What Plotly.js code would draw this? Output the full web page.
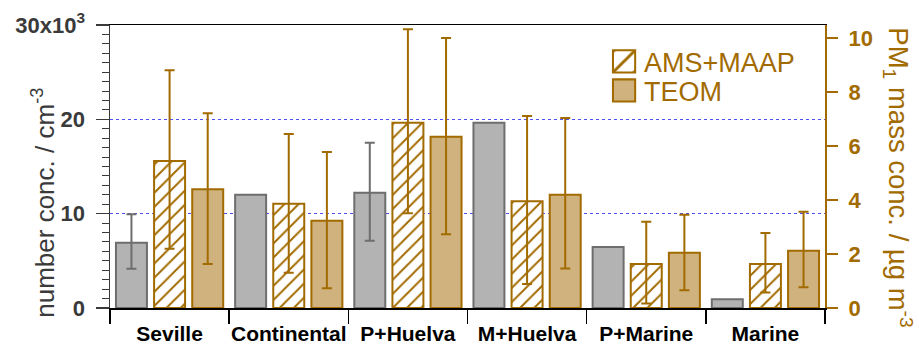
<!DOCTYPE html>
<html>
<head>
<meta charset="utf-8">
<script src="https://cdn.plot.ly/plotly-3.0.1.min.js"></script>
<style>
html,body{margin:0;padding:0;background:#fff;}
#chart{width:919px;height:345px;}
</style>
</head>
<body>
<div id="chart"></div>
<script>
// ---- data ----
var categories = ['Seville', 'Continental', 'P+Huelva', 'M+Huelva', 'P+Marine', 'Marine'];

var numberConc      = [6920, 12010, 12220, 19650, 6470, 920];
var numberErrPlus   = [3010, NaN, 5300, NaN, NaN, NaN];
var numberErrMinus  = [2750, NaN, 5090, NaN, NaN, NaN];

var amsMaap         = [5.45, 3.86, 6.87, 3.96, 1.63, 1.63];
var amsMaapErrPlus  = [3.36, 2.59, 3.46, 3.16, 1.57, 1.15];
var amsMaapErrMinus = [3.25, 2.55, 3.36, 3.07, 1.46, 1.06];

var teom            = [4.40, 3.23, 6.35, 4.20, 2.05, 2.12];
var teomErrPlus     = [2.82, 2.55, 3.66, 2.84, 1.41, 1.45];
var teomErrMinus    = [2.77, 2.50, 3.62, 2.74, 1.39, 1.35];

var leftTickVals  = [0, 10000, 20000, 30000];
var leftTickText  = ['0', '10', '20', '30x10<sup>3</sup>'];

// ---- styles ----
var FONT = 'Liberation Sans, Arial, sans-serif';
var BROWN = '#a26b00';
var TAN = '#cfb27e';
var GREY_FILL = '#b3b3b3';
var GREY_LINE = '#6e6e6e';
var DARK = '#3a3a3a';

var barW = 0.26;

var traces = [
  {
    type: 'bar', name: 'number', x: categories, y: numberConc, yaxis: 'y',
    width: barW, offset: -0.45, showlegend: false,
    marker: {color: GREY_FILL, line: {color: GREY_LINE, width: 2}},
    error_y: {type: 'data', symmetric: false, array: numberErrPlus, arrayminus: numberErrMinus,
              color: GREY_LINE, thickness: 2, width: 5}
  },
  {
    type: 'bar', name: 'AMS+MAAP', x: categories, y: amsMaap, yaxis: 'y2',
    width: barW, offset: -0.13, legend: 'legend',
    marker: {color: 'white', line: {color: BROWN, width: 2},
             pattern: {shape: '/', fgcolor: BROWN, bgcolor: 'white', size: 10, solidity: 0.2, fillmode: 'replace'}},
    error_y: {type: 'data', symmetric: false, array: amsMaapErrPlus, arrayminus: amsMaapErrMinus,
              color: BROWN, thickness: 2, width: 5}
  },
  {
    type: 'bar', name: 'TEOM', x: categories, y: teom, yaxis: 'y2',
    width: barW, offset: 0.19, legend: 'legend2',
    marker: {color: TAN, line: {color: BROWN, width: 2}},
    error_y: {type: 'data', symmetric: false, array: teomErrPlus, arrayminus: teomErrMinus,
              color: BROWN, thickness: 2, width: 5}
  }
];

var legendCommon = {
  xanchor: 'left', yanchor: 'middle', bgcolor: 'rgba(0,0,0,0)', borderwidth: 0,
  font: {family: FONT, size: 27, color: BROWN}
};

var layout = {
  width: 919, height: 345,
  margin: {l: 110, r: 94, t: 25, b: 37, pad: 0},
  paper_bgcolor: 'white', plot_bgcolor: 'white',
  font: {family: FONT, color: DARK},
  barmode: 'overlay',
  hovermode: false,
  xaxis: {
    type: 'category', range: [-0.5, 5.5], fixedrange: true, tickangle: 0,
    tickson: 'boundaries', ticks: 'outside', ticklen: 14, tickwidth: 1.5, tickcolor: '#000',
    showline: true, linecolor: '#000', linewidth: 1.5, mirror: true,
    showgrid: false, zeroline: false, ticklabelstandoff: 6,
    tickfont: {family: FONT, size: 21, color: '#000', weight: 'bold'}
  },
  yaxis: {
    range: [0, 30000], fixedrange: true,
    tickmode: 'array', tickvals: leftTickVals, ticktext: leftTickText,
    ticks: 'outside', ticklen: 13, tickwidth: 1.5, tickcolor: DARK,
    showline: true, linecolor: DARK, linewidth: 1.5,
    showgrid: true, gridcolor: '#4d4dff', gridwidth: 1, griddash: 'dot',
    zeroline: false, ticklabelstandoff: 6,
    minor: {tickmode: 'linear', tick0: 0, dtick: 1000, ticks: 'outside', ticklen: 7,
            tickwidth: 1, tickcolor: DARK, showgrid: false},
    tickfont: {family: FONT, size: 22, color: DARK, weight: 'bold'}
  },
  yaxis2: {
    overlaying: 'y', side: 'right', range: [0, 10.49], fixedrange: true,
    tickmode: 'linear', tick0: 0, dtick: 2,
    ticks: 'outside', ticklen: 11, tickwidth: 2, tickcolor: BROWN,
    showline: true, linecolor: BROWN, linewidth: 2,
    showgrid: false, zeroline: false, ticklabelstandoff: 6,
    tickfont: {family: FONT, size: 22, color: BROWN, weight: 'bold'}
  },
  legend: Object.assign({x: 0.691, y: 0.87}, legendCommon),
  legend2: Object.assign({x: 0.691, y: 0.767}, legendCommon),
  annotations: [
    {
      xref: 'paper', yref: 'paper', x: -0.0923, y: 0.372, xanchor: 'center', yanchor: 'middle',
      text: 'number conc. / cm<sup>-3</sup>', textangle: -90, showarrow: false,
      font: {family: FONT, size: 26, color: DARK}
    },
    {
      xref: 'paper', yref: 'paper', x: 1.102, y: 0.462, xanchor: 'center', yanchor: 'middle',
      text: 'PM<sub>1</sub> mass conc. / µg m<sup>-3</sup>', textangle: 90, showarrow: false,
      font: {family: FONT, size: 27.5, color: BROWN}
    }
  ]
};

Plotly.newPlot('chart', traces, layout, {staticPlot: true, displayModeBar: false}).then(function (gd) {
  // enlarge the legend swatches to match the reference's bigger keys
  var pts = gd.querySelectorAll('.legendpoints path');
  pts.forEach(function (p) {
    var t = p.getAttribute('transform') || '';
    p.setAttribute('transform', t + ' scale(1.85)');
    p.style.strokeWidth = '1.1px';
  });
});
</script>
</body>
</html>
